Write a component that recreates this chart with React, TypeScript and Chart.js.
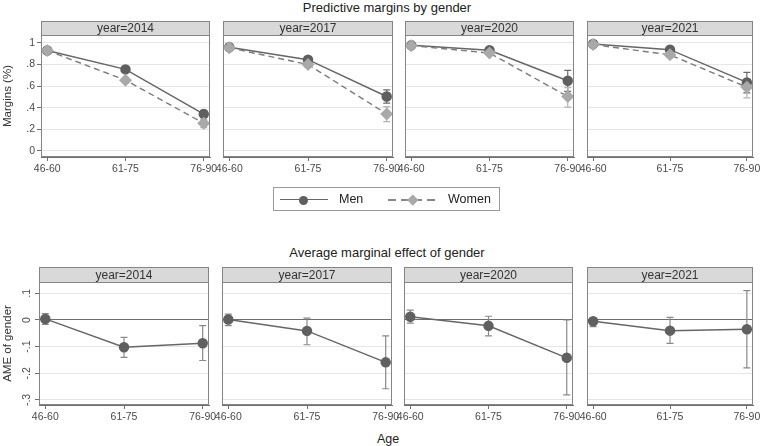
import { useEffect, useRef } from 'react';
import { Chart, registerables } from 'chart.js';

Chart.register(...registerables);
Chart.defaults.font.family = "'Liberation Sans', Arial, sans-serif";

const ageGroups = ['46-60', '61-75', '76-90'];
const years = ['2014', '2017', '2020', '2021'];
const seriesNames = ['Men', 'Women'];

// predictive margins, one row per year
const menMargins = [
  [0.93, 0.755, 0.34],
  [0.96, 0.845, 0.503],
  [0.978, 0.932, 0.649],
  [0.99, 0.938, 0.634],
];
const menLow = [
  [0.915, 0.737, 0.31],
  [0.95, 0.827, 0.441],
  [0.97, 0.915, 0.55],
  [0.984, 0.921, 0.537],
];
const menHigh = [
  [0.945, 0.773, 0.375],
  [0.97, 0.863, 0.565],
  [0.986, 0.95, 0.745],
  [0.996, 0.955, 0.727],
];
const womenMargins = [
  [0.93, 0.655, 0.255],
  [0.955, 0.8, 0.342],
  [0.975, 0.907, 0.503],
  [0.985, 0.89, 0.59],
];
const womenLow = [
  [0.91, 0.635, 0.215],
  [0.94, 0.775, 0.27],
  [0.965, 0.885, 0.405],
  [0.977, 0.865, 0.49],
];
const womenHigh = [
  [0.95, 0.675, 0.29],
  [0.97, 0.825, 0.41],
  [0.985, 0.93, 0.585],
  [0.993, 0.915, 0.658],
];

// average marginal effect of gender
const ameValues = [
  [0.004, -0.102, -0.087],
  [0.002, -0.041, -0.159],
  [0.012, -0.022, -0.142],
  [-0.005, -0.04, -0.035],
];
const ameLow = [
  [-0.017, -0.14, -0.152],
  [-0.021, -0.093, -0.258],
  [-0.012, -0.06, -0.281],
  [-0.025, -0.088, -0.18],
];
const ameHigh = [
  [0.024, -0.065, -0.021],
  [0.022, 0.007, -0.06],
  [0.037, 0.014, 0],
  [0.007, 0.01, 0.11],
];

const marginTicks = [0, 0.2, 0.4, 0.6, 0.8, 1];
const ameTicks = [-0.3, -0.2, -0.1, 0, 0.1];

const fmtTick = (v: number) => {
  const r = Math.round(v * 10) / 10;
  if (r === 0) return '0';
  return String(r).replace('0.', '.');
};

const errorBars = {
  id: 'errorBars',
  beforeDatasetsDraw(chart: any, _args: any, opts: any) {
    const { ctx } = chart;
    const xs = chart.scales.x;
    const ys = chart.scales.y;
    (opts.bars || []).forEach((bar: any) => {
      ctx.save();
      ctx.strokeStyle = bar.color;
      ctx.lineWidth = 1.2;
      bar.low.forEach((lo: number, i: number) => {
        const px = xs.getPixelForValue(i);
        const y1 = ys.getPixelForValue(lo);
        const y2 = ys.getPixelForValue(bar.high[i]);
        ctx.beginPath();
        ctx.moveTo(px, y1);
        ctx.lineTo(px, y2);
        ctx.moveTo(px - 3.5, y1);
        ctx.lineTo(px + 3.5, y1);
        ctx.moveTo(px - 3.5, y2);
        ctx.lineTo(px + 3.5, y2);
        ctx.stroke();
      });
      ctx.restore();
    });
  },
};

const panelFrame = {
  id: 'panelFrame',
  afterDraw(chart: any, _args: any, opts: any) {
    const { ctx, chartArea: a } = chart;
    const h = opts.stripHeight;
    const l = Math.round(a.left) + 0.5;
    const r = Math.round(a.right) - 0.5;
    const t = Math.round(a.top) + 0.5;
    const b = Math.round(a.bottom) - 0.5;
    ctx.save();
    ctx.fillStyle = '#d9d9d9';
    ctx.fillRect(l, t - h, r - l, h);
    ctx.strokeStyle = '#858585';
    ctx.lineWidth = 1;
    ctx.strokeRect(l, t - h, r - l, h);
    ctx.strokeRect(l, t, r - l, b - t);
    ctx.fillStyle = '#333';
    ctx.font = "12px 'Liberation Sans', Arial, sans-serif";
    ctx.textAlign = 'center';
    ctx.textBaseline = 'middle';
    ctx.fillText(opts.text, (l + r) / 2, t - h / 2 + 0.5);
    ctx.restore();
  },
};

type PanelProps = {
  left: number;
  top: number;
  width: number;
  height: number;
  padLeft: number;
  padTop: number;
  yWidth: number;
  stripHeight: number;
  strip: string;
  datasets: any[];
  bars: any[];
  yMin: number;
  yMax: number;
  yTicks: number[];
  showY: boolean;
  yTitle: string;
  rotateY: boolean;
  zeroLine: boolean;
};

function Panel(p: PanelProps) {
  const canvasRef = useRef<HTMLCanvasElement | null>(null);

  useEffect(() => {
    if (!canvasRef.current) return;
    const rot = p.rotateY ? 90 : 0;
    const chart = new Chart(canvasRef.current, {
      type: 'line',
      data: { datasets: p.datasets },
      options: {
        animation: false,
        responsive: true,
        maintainAspectRatio: false,
        layout: { padding: { left: p.padLeft, right: 10, top: p.padTop, bottom: 0 } },
        plugins: {
          legend: { display: false },
          tooltip: { enabled: false },
          errorBars: { bars: p.bars },
          panelFrame: { text: p.strip, stripHeight: p.stripHeight },
        } as any,
        scales: {
          x: {
            type: 'linear',
            min: -0.08,
            max: 2.08,
            afterBuildTicks: (s: any) => {
              s.ticks = ageGroups.map((_, i) => ({ value: i }));
            },
            afterFit: (s: any) => {
              s.height = 22;
            },
            ticks: {
              callback: (v: any) => ageGroups[v] ?? '',
              color: '#4a4a4a',
              font: { size: 10.5 },
              padding: 2,
              maxRotation: 0,
              autoSkip: false,
            },
            grid: { drawOnChartArea: false, tickLength: 4, tickColor: '#707070' },
            border: { color: '#707070' },
          },
          y: {
            type: 'linear',
            min: p.yMin,
            max: p.yMax,
            afterBuildTicks: (s: any) => {
              s.ticks = p.yTicks.map((v) => ({ value: v }));
            },
            afterFit: (s: any) => {
              s.width = p.yWidth;
            },
            ticks: {
              display: p.showY,
              callback: (v: any) => fmtTick(Number(v)),
              color: '#4a4a4a',
              font: { size: 10.5 },
              padding: 2,
              minRotation: rot,
              maxRotation: rot,
              crossAlign: p.rotateY ? 'center' : 'near',
            },
            grid: {
              color: (c: any) => (p.zeroLine && c.tick && c.tick.value === 0 ? '#6e6e6e' : '#e6e6e6'),
              tickColor: '#707070',
              tickLength: 4,
              drawTicks: p.showY,
            },
            border: { color: '#707070' },
            title: {
              display: p.showY,
              text: p.yTitle,
              color: '#333',
              font: { size: 11.5 },
              padding: { top: 1, bottom: 0 },
            },
          },
        },
      } as any,
      plugins: [errorBars, panelFrame],
    });
    return () => chart.destroy();
  }, []);

  return (
    <div style={{ position: 'absolute', left: p.left, top: p.top, width: p.width, height: p.height }}>
      <canvas ref={canvasRef} />
    </div>
  );
}

// panel plot-area edges, per column
const topCols = [
  [41, 210],
  [223, 393],
  [405, 574],
  [587, 753],
];
const botCols = [
  [39, 209],
  [222, 392],
  [404, 573],
  [587, 753],
];

const pts = (vals: number[]) => vals.map((v, i) => ({ x: i, y: v }));

export default function App() {
  const text: React.CSSProperties = {
    position: 'absolute',
    fontFamily: "'Liberation Sans', Arial, sans-serif",
    color: '#222',
    whiteSpace: 'nowrap',
  };

  const topPanels = years.map((yr, c) => {
    const [pl, pr] = topCols[c];
    const canvasTop = 19;
    const left = c === 0 ? 0 : pl - 10;
    return (
      <Panel
        key={'m' + yr}
        left={left}
        top={canvasTop}
        width={pr + 10 - left}
        height={157 - canvasTop + 22}
        padLeft={c === 0 ? 0 : 10}
        padTop={35 - canvasTop}
        yWidth={c === 0 ? pl : 0}
        stripHeight={14}
        strip={'year=' + yr}
        datasets={[
          {
            label: seriesNames[0],
            data: pts(menMargins[c]),
            borderColor: '#666',
            borderWidth: 1.5,
            pointStyle: 'circle',
            pointRadius: 4.5,
            pointBackgroundColor: '#5f5f5f',
            pointBorderColor: '#5f5f5f',
            order: 1,
          },
          {
            label: seriesNames[1],
            data: pts(womenMargins[c]),
            borderColor: '#7b7b7b',
            borderWidth: 1.4,
            borderDash: [6, 4],
            pointStyle: 'rectRot',
            pointRadius: 5.5,
            pointBackgroundColor: '#a9a9a9',
            pointBorderColor: '#a9a9a9',
            order: 0,
          },
        ]}
        bars={[
          { low: menLow[c], high: menHigh[c], color: '#6a6a6a' },
          { low: womenLow[c], high: womenHigh[c], color: '#b3b3b3' },
        ]}
        yMin={-0.058}
        yMax={1.074}
        yTicks={marginTicks}
        showY={c === 0}
        yTitle="Margins (%)"
        rotateY={false}
        zeroLine={false}
      />
    );
  });

  const botPanels = years.map((yr, c) => {
    const [pl, pr] = botCols[c];
    const canvasTop = 265;
    const left = c === 0 ? 0 : pl - 10;
    return (
      <Panel
        key={'a' + yr}
        left={left}
        top={canvasTop}
        width={pr + 10 - left}
        height={405 - canvasTop + 22}
        padLeft={c === 0 ? 0 : 10}
        padTop={282 - canvasTop}
        yWidth={c === 0 ? pl : 0}
        stripHeight={15}
        strip={'year=' + yr}
        datasets={[
          {
            label: 'AME',
            data: pts(ameValues[c]),
            borderColor: '#666',
            borderWidth: 1.5,
            pointStyle: 'circle',
            pointRadius: 4.5,
            pointBackgroundColor: '#606060',
            pointBorderColor: '#606060',
          },
        ]}
        bars={[{ low: ameLow[c], high: ameHigh[c], color: '#8a8a8a' }]}
        yMin={-0.319}
        yMax={0.1425}
        yTicks={ameTicks}
        showY={c === 0}
        yTitle="AME of gender"
        rotateY={true}
        zeroLine={true}
      />
    );
  });

  return (
    <div style={{ position: 'absolute', left: 0, top: 0, width: 760, height: 446, background: '#fff', overflow: 'hidden' }}>
      <div style={{ ...text, left: 0, width: 774, top: 0, textAlign: 'center', fontSize: 13, lineHeight: '15px' }}>
        Predictive margins by gender
      </div>
      {topPanels}

      {/* legend */}
      <div style={{ position: 'absolute', left: 273, top: 187, width: 227, height: 24, border: '1px solid #9a9a9a', boxSizing: 'border-box' }} />
      <div style={{ position: 'absolute', left: 280, top: 199, width: 48, height: 0, borderTop: '1.5px solid #666' }} />
      <div style={{ position: 'absolute', left: 299, top: 195.5, width: 9, height: 9, borderRadius: '50%', background: '#5f5f5f' }} />
      <div style={{ ...text, left: 339, top: 192, fontSize: 12.5, lineHeight: '15px' }}>{seriesNames[0]}</div>
      <div
        style={{
          position: 'absolute',
          left: 388,
          top: 199,
          width: 49,
          height: 1.5,
          background: 'repeating-linear-gradient(90deg, #888 0 8px, transparent 8px 13px)',
        }}
      />
      <div style={{ position: 'absolute', left: 408.5, top: 196, width: 7.5, height: 7.5, transform: 'rotate(45deg)', background: '#a9a9a9' }} />
      <div style={{ ...text, left: 448, top: 192, fontSize: 12.5, lineHeight: '15px' }}>{seriesNames[1]}</div>

      <div style={{ ...text, left: 0, width: 774, top: 245, textAlign: 'center', fontSize: 13, lineHeight: '15px' }}>
        Average marginal effect of gender
      </div>
      {botPanels}
      <div style={{ ...text, left: 0, width: 776, top: 432, textAlign: 'center', fontSize: 12.5, lineHeight: '15px' }}>
        Age
      </div>
    </div>
  );
}
